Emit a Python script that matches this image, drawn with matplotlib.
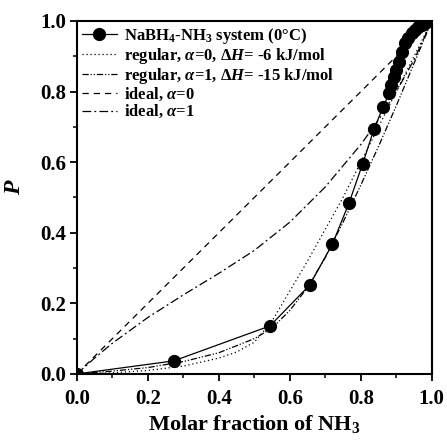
import matplotlib
matplotlib.use("Agg")
import matplotlib.pyplot as plt
from matplotlib.ticker import MultipleLocator

plt.rcParams['font.family'] = ['Liberation Serif', 'DejaVu Serif']
plt.rcParams['font.weight'] = 'bold'
plt.rcParams['mathtext.fontset'] = 'custom'
plt.rcParams['mathtext.rm'] = 'Liberation Serif:bold'
plt.rcParams['mathtext.it'] = 'Liberation Serif:italic:bold'
plt.rcParams['mathtext.bf'] = 'Liberation Serif:bold'

# experimental data
exp_x = [0.0, 0.273, 0.544, 0.656, 0.72, 0.767, 0.805, 0.837, 0.863, 0.880, 0.886,
         0.893, 0.900, 0.908, 0.915, 0.924, 0.933, 0.943, 0.952, 0.961, 0.971, 0.980, 1.0]
exp_y = [0.0, 0.037, 0.136, 0.252, 0.368, 0.485, 0.595, 0.693, 0.757, 0.795, 0.819,
         0.842, 0.861, 0.885, 0.913, 0.937, 0.951, 0.965, 0.975, 0.984, 0.989, 0.993, 1.0]

# regular, alpha=0, dH=-6
reg0_x = [0, 0.1, 0.2, 0.3, 0.4, 0.45, 0.5, 0.55, 0.6, 0.65, 0.7, 0.75, 0.8, 0.85, 0.9, 0.95, 1.0]
reg0_y = [0, 0.003, 0.01, 0.022, 0.045, 0.062, 0.09, 0.15, 0.235, 0.32, 0.41, 0.5, 0.6, 0.7, 0.8, 0.9, 1.0]

# regular, alpha=1, dH=-15
reg1_x = [0, 0.1, 0.2, 0.3, 0.4, 0.5, 0.55, 0.6, 0.65, 0.7, 0.75, 0.8, 0.85, 0.9, 0.95, 1.0]
reg1_y = [0, 0.008, 0.018, 0.035, 0.06, 0.1, 0.13, 0.18, 0.245, 0.33, 0.43, 0.535, 0.645, 0.76, 0.88, 1.0]

# ideal, alpha=0
id0_x = [0.0, 1.0]
id0_y = [0.0, 1.0]

# ideal, alpha=1
id1_x = [0, 0.05, 0.1, 0.2, 0.3, 0.4, 0.5, 0.6, 0.7, 0.8, 0.85, 0.9, 0.95, 1.0]
id1_y = [0, 0.045, 0.087, 0.16, 0.224, 0.285, 0.35, 0.43, 0.53, 0.65, 0.72, 0.8, 0.89, 1.0]

fig = plt.figure(figsize=(4.47, 4.42), dpi=100)
ax = fig.add_axes([0.172, 0.154, 0.794, 0.7985])

ax.plot(exp_x, exp_y, '-', color='black', lw=0.9, marker='o', ms=8.5,
        label=r'NaBH$_4$-NH$_3$ system (0$\degree$C)')
ax.plot(reg0_x, reg0_y, color='black', lw=0.9, linestyle=(0, (1, 2.2)),
        label=r'regular, $\alpha$=0, $\Delta H$= -6 kJ/mol')
ax.plot(reg1_x, reg1_y, color='black', lw=0.9, linestyle=(0, (5, 1.5, 1, 1.5, 1, 1.5)),
        label=r'regular, $\alpha$=1, $\Delta H$= -15 kJ/mol')
ax.plot(id0_x, id0_y, color='black', lw=0.9, linestyle=(0, (5, 4)),
        label=r'ideal, $\alpha$=0')
ax.plot(id1_x, id1_y, color='black', lw=0.9, linestyle=(0, (7, 2.5, 1.5, 2.5)),
        label=r'ideal, $\alpha$=1')

ax.set_xlim(0, 1)
ax.set_ylim(0, 1)
ax.xaxis.set_major_locator(MultipleLocator(0.2))
ax.xaxis.set_minor_locator(MultipleLocator(0.1))
ax.yaxis.set_major_locator(MultipleLocator(0.2))
ax.yaxis.set_minor_locator(MultipleLocator(0.1))
ax.tick_params(which='major', direction='out', length=5, width=1.3, labelsize=15, pad=3)
ax.tick_params(axis='x', which='major', pad=6)
ax.tick_params(which='minor', direction='out', length=3, width=1.1)
for s in ax.spines.values():
    s.set_linewidth(1.5)
for lab in ax.get_xticklabels() + ax.get_yticklabels():
    lab.set_fontweight('bold')

ax.set_xlabel(r'Molar fraction of NH$_3$', fontsize=16, fontweight='bold', labelpad=3)
ax.set_ylabel(r'$P$', fontsize=17, fontweight='bold')
ax.yaxis.set_label_coords(-0.145, 0.53)

leg = ax.legend(loc='upper left', frameon=False, fontsize=12, handlelength=2.1,
                handletextpad=0.4, labelspacing=0.0, borderaxespad=0.1,
                borderpad=0.2)

fig.savefig('out.png', dpi=100)
